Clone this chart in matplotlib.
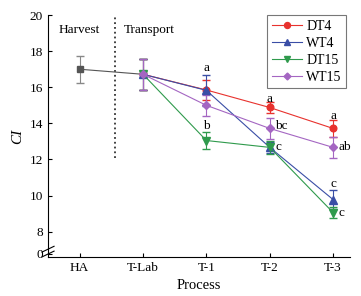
import numpy as np
import matplotlib
matplotlib.use('Agg')
import matplotlib.pyplot as plt
from matplotlib.lines import Line2D

plt.rcParams['font.family'] = ['Liberation Serif', 'DejaVu Serif']
plt.rcParams['font.size'] = 9.5

stages = ['HA', 'T-Lab', 'T-1', 'T-2', 'T-3']
pre_mean = [17.0, 16.72]
pre_err = [0.75, 0.85]

series = ['DT4', 'WT4', 'DT15', 'WT15']
means = {
    'DT4': [16.72, 15.85, 14.88, 13.72],
    'WT4': [16.72, 15.83, 12.67, 9.78],
    'DT15': [16.72, 13.05, 12.67, 9.06],
    'WT15': [16.72, 15.0, 13.72, 12.67],
}
errs = {
    'DT4': [0.85, 0.55, 0.3, 0.45],
    'WT4': [0.85, 0.85, 0.3, 0.55],
    'DT15': [0.85, 0.45, 0.35, 0.3],
    'WT15': [0.85, 0.6, 0.6, 0.6],
}
colors = {'DT4': '#e8322e', 'WT4': '#3a4ea6', 'DT15': '#2f9a4c', 'WT15': '#a466c2'}
markers = {'DT4': 'o', 'WT4': '^', 'DT15': 'v', 'WT15': 'D'}
msizes = {'DT4': 4.8, 'WT4': 5.2, 'DT15': 5.2, 'WT15': 4.0}

# significance letters: (stage index, value, text, ha)
letters = [
    (2, 17.05, 'a', 'center'), (2, 13.85, 'b', 'center'),
    (3, 15.35, 'a', 'center'), (3, 13.85, 'bc', 'left'), (3, 12.67, 'c', 'left'),
    (4, 14.4, 'a', 'center'), (4, 12.67, 'ab', 'left'),
    (4, 10.65, 'c', 'center'), (4, 9.06, 'c', 'left'),
]

fig = plt.figure(figsize=(3.61, 2.96), dpi=100)
ax = fig.add_axes([0.133, 0.132, 0.837, 0.817])

x = np.arange(len(stages))
ax.errorbar(x[:2], pre_mean, yerr=pre_err, color='#555555', marker='s', ms=4.5,
            lw=0.8, elinewidth=0.8, capsize=3, ecolor='#888888')

for s in series:
    ax.errorbar(x[1:], means[s], yerr=errs[s], color=colors[s], marker=markers[s],
                ms=msizes[s], lw=0.8, elinewidth=0.8, capsize=3)

for i, v, t, ha in letters:
    dx = 0.09 if ha == 'left' else 0
    ax.text(x[i] + dx, v, t, ha=ha, va='center', fontsize=9.5)

ax.axvline(0.55, ymin=(12.1 - 6.6) / (20 - 6.6), ymax=1, color='#333333', ls=':', lw=1.3)
ax.text(0.0, 19.2, 'Harvest', ha='center', va='center', fontsize=9.5)
ax.text(1.1, 19.2, 'Transport', ha='center', va='center', fontsize=9.5)

ax.set_xlim(-0.5, 4.27)
ax.set_ylim(6.6, 20)
ax.set_xticks(x)
ax.set_xticklabels(stages)
yt = [6.78, 8, 10, 12, 14, 16, 18, 20]
ax.set_yticks(yt)
ax.set_yticklabels(['0', '8', '10', '12', '14', '16', '18', '20'])
ax.tick_params(direction='in', length=3, width=0.8, labelsize=9.5)
ax.spines['top'].set_visible(False)
ax.spines['right'].set_visible(False)
ax.set_xlabel('Process', fontsize=10.5)
ax.set_ylabel('CI', fontsize=11, style='italic')

# axis break marks
for dy in (0.012, 0.032):
    ax.plot([-0.02, 0.02], [dy - 0.012, dy + 0.012], transform=ax.transAxes,
            color='k', lw=0.8, clip_on=False)

handles = [Line2D([], [], color=colors[s], marker=markers[s], ms=msizes[s] - 0.5, lw=0.8)
           for s in series]
leg = ax.legend(handles, series, loc='upper right', bbox_to_anchor=(0.995, 1.01),
                fontsize=10, fancybox=False, edgecolor='#555555', handlelength=2.2,
                borderpad=0.3, labelspacing=0.3, handletextpad=0.3, borderaxespad=0.2)
leg.get_frame().set_linewidth(0.8)

fig.savefig('out.png', dpi=100)
